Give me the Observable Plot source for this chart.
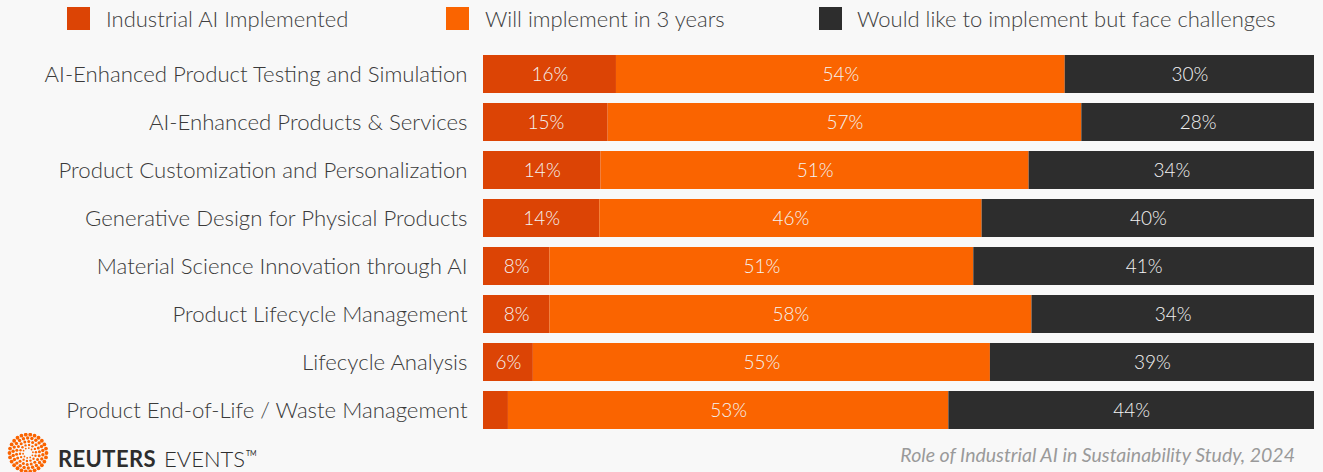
<!DOCTYPE html>
<html>
<head>
<meta charset="utf-8">
<script src="https://cdn.jsdelivr.net/npm/d3@7"></script>
<script src="https://cdn.jsdelivr.net/npm/@observablehq/plot@0.6"></script>
<style>
  html, body { margin: 0; padding: 0; background: #f8f8f8; }
  body { width: 1323px; height: 472px; position: relative; overflow: hidden; font-family: Lato, "Noto Sans", sans-serif; }
  #legend { position: absolute; left: 0; top: 0; width: 1323px; height: 44px; }
  .sw { position: absolute; top: 7px; width: 23px; height: 23px; }
  .lt { position: absolute; top: 5px; font-size: 22px; line-height: 28px; color: #404040; font-weight: 300; white-space: nowrap; }
  #chart { position: absolute; left: 0; top: 44px; }
  #logo { position: absolute; left: 7px; top: 433px; }
  #brand { position: absolute; left: 58px; top: 440px; font-size: 22px; line-height: 26px; color: #2d2d2d; white-space: nowrap; }
  #brand b { font-weight: 700; letter-spacing: 0.4px; }
  #brand span { font-weight: 300; margin-left: 2px; }
  #brand sup { font-size: 7px; vertical-align: 11px; font-weight: 400; margin-left: 1px; }
  #caption { position: absolute; right: 28px; top: 443px; font-size: 19.5px; line-height: 24px; font-style: italic; color: #9a9a9a; white-space: nowrap; }
</style>
</head>
<body>
<div id="legend"></div>
<div id="chart"></div>
<svg id="logo" width="42" height="40"></svg>
<div id="brand"><b>REUTERS</b><span> EVENTS</span><sup>TM</sup></div>
<div id="caption">Role of Industrial AI in Sustainability Study, 2024</div>
<script>
const categories = [
  "AI-Enhanced Product Testing and Simulation",
  "AI-Enhanced Products & Services",
  "Product Customization and Personalization",
  "Generative Design for Physical Products",
  "Material Science Innovation through AI",
  "Product Lifecycle Management",
  "Lifecycle Analysis",
  "Product End-of-Life / Waste Management"
];
const seriesNames = ["Industrial AI Implemented", "Will implement in 3 years", "Would like to implement but face challenges"];
const implemented = [16, 15, 14, 14, 8, 8, 6, 3];
const willImplement = [54, 57, 51, 46, 51, 58, 55, 53];
const challenges = [30, 28, 34, 40, 41, 34, 39, 44];
const colors = ["#dc4405", "#fa6400", "#2d2d2d"];

const seriesValues = [implemented, willImplement, challenges];
const data = [];
categories.forEach((c, i) => {
  seriesNames.forEach((s, j) => data.push({category: c, series: s, value: seriesValues[j][i]}));
});

// legend
const swatchX = [67, 446, 819];
const textX = [106, 485, 857];
const legend = document.getElementById("legend");
seriesNames.forEach((s, j) => {
  const sw = document.createElement("div");
  sw.className = "sw";
  sw.style.left = swatchX[j] + "px";
  sw.style.background = colors[j];
  legend.appendChild(sw);
  const t = document.createElement("div");
  t.className = "lt";
  t.style.left = textX[j] + "px";
  t.textContent = s;
  legend.appendChild(t);
});

const chart = Plot.plot({
  width: 1323,
  height: 395,
  marginLeft: 483,
  marginRight: 9,
  marginTop: 0,
  marginBottom: 0,
  style: {background: "transparent", fontFamily: "Lato, 'Noto Sans', sans-serif"},
  x: {domain: [0, 1], axis: null},
  y: {domain: categories, padding: 0.21, label: null},
  color: {domain: seriesNames, range: colors},
  marks: [
    Plot.barX(data, Plot.stackX({offset: "normalize", order: null, x: "value", y: "category", fill: "series"})),
    Plot.text(data, Plot.stackX({offset: "normalize", order: null, x: "value", y: "category", z: "series",
      text: d => d.value >= 5 ? d.value + "%" : null, fill: "#f4f4f4", fontSize: 19, fontWeight: 300})),
    Plot.axisY({tickSize: 0, tickPadding: 16, fontSize: 22.2, fontWeight: 300, label: null})
  ]
});
document.getElementById("chart").appendChild(chart);
d3.select(chart).selectAll("g[aria-label='y-axis tick label']").attr("fill", "#3a3a3a");

// logo (decorative dot ring)
const logo = d3.select("#logo");
const cx = 21, cy = 20;
[[18.5, 26, 1.9], [15, 22, 1.7], [11.5, 18, 1.5], [8, 14, 1.2], [5, 10, 0.9]].forEach(([r, n, s], ri) => {
  for (let k = 0; k < n; k++) {
    const a = (k / n) * 2 * Math.PI + ri * 0.12;
    logo.append("circle").attr("cx", cx + r * Math.cos(a)).attr("cy", cy + r * Math.sin(a)).attr("r", s).attr("fill", "#fa6400");
  }
});
</script>
</body>
</html>
